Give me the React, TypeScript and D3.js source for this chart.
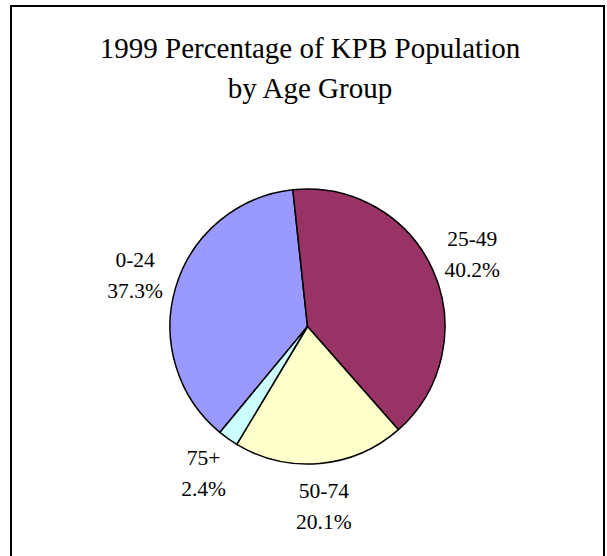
import React, { useEffect, useRef } from 'react';
import * as d3 from 'd3';

// datos del gráfico
const categories = ['0-24', '25-49', '50-74', '75+'];
const percents = [37.3, 40.2, 20.1, 2.4];
const colors = ['#9999FF', '#993366', '#FFFFCC', '#CCFFFF'];
const titleLines = ['1999 Percentage of KPB Population', 'by Age Group'];

const App = () => {
  const chartRef = useRef<SVGSVGElement>(null);

  useEffect(() => {
    const svg = d3.select(chartRef.current);
    svg.selectAll('*').remove();

    const width = 607;
    const height = 556;
    const cx = 307.5;
    const cy = 326.5;
    const radius = 137.5;
    const labelRadius = 180;
    const font = 'Liberation Serif';

    // marco
    svg.append('rect')
      .attr('x', 11)
      .attr('y', 6)
      .attr('width', 593)
      .attr('height', height + 10)
      .attr('fill', 'white')
      .attr('stroke', 'black')
      .attr('stroke-width', 2);

    // título
    svg.append('g')
      .selectAll('text')
      .data(titleLines)
      .enter()
      .append('text')
      .attr('x', 310)
      .attr('y', (d, i) => 58 + i * 40)
      .attr('text-anchor', 'middle')
      .attr('font-family', font)
      .attr('font-size', 29)
      .attr('fill', 'black')
      .text(d => d);

    const data = categories.map((c, i) => ({ cat: c, value: percents[i], color: colors[i] }));

    const start = (-140.4 * Math.PI) / 180;
    const pie = d3.pie<any>()
      .sort(null)
      .value(d => d.value)
      .startAngle(start)
      .endAngle(start + 2 * Math.PI);

    const arc = d3.arc<any>().innerRadius(0).outerRadius(radius);
    const labelArc = d3.arc<any>().innerRadius(labelRadius).outerRadius(labelRadius);

    const g = svg.append('g').attr('transform', `translate(${cx},${cy})`);
    const arcs = pie(data);

    g.selectAll('path')
      .data(arcs)
      .enter()
      .append('path')
      .attr('d', arc)
      .attr('fill', d => d.data.color)
      .attr('stroke', 'black')
      .attr('stroke-width', 1.5)
      .attr('stroke-linejoin', 'round');

    const labels = g.selectAll('g.label')
      .data(arcs)
      .enter()
      .append('g')
      .attr('class', 'label')
      .attr('transform', d => {
        const [x, y] = labelArc.centroid(d);
        return `translate(${x},${y})`;
      });

    labels.append('text')
      .attr('y', -8)
      .attr('text-anchor', 'middle')
      .attr('font-family', font)
      .attr('font-size', 21.5)
      .text(d => d.data.cat);

    labels.append('text')
      .attr('y', 23)
      .attr('text-anchor', 'middle')
      .attr('font-family', font)
      .attr('font-size', 21.5)
      .text(d => `${d.data.value.toFixed(1)}%`);

    svg.attr('width', width).attr('height', height);
  }, []);

  return (
    <svg
      ref={chartRef}
      width={607}
      height={556}
      style={{ position: 'absolute', left: 0, top: 0, background: 'white' }}
    />
  );
};

export default App;
